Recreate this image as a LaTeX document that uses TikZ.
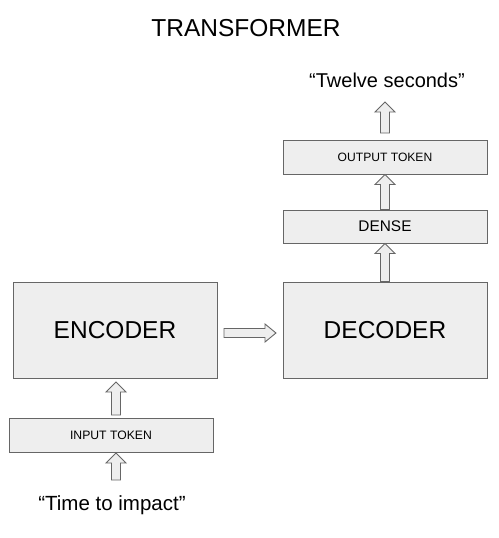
\documentclass[tikz,border=0pt]{standalone}
\usepackage{fontspec}
\setmainfont{Liberation Sans}
\usetikzlibrary{calc}
\definecolor{boxfill}{HTML}{EEEEEE}
\definecolor{boxline}{HTML}{666666}
\tikzset{
  box/.style={draw=boxline, fill=boxfill, line width=1pt, inner sep=0pt},
  blk/.style={draw=boxline, fill=boxfill, line width=0.9pt, line join=miter},
  lbl/.style={inner sep=0pt, text=black}
}
\newcommand\blkup[2]{\draw[blk] let \p1=(#1), \p2=(#2) in
  (\x1-4.5pt,\y1) -- (\x1-4.5pt,\y2-10pt) -- (\x1-10pt,\y2-10pt) -- (\x1,\y2)
  -- (\x1+10pt,\y2-10pt) -- (\x1+4.5pt,\y2-10pt) -- (\x1+4.5pt,\y1) -- cycle;}
\newcommand\blkright[2]{\draw[blk] let \p1=(#1), \p2=(#2) in
  (\x1,\y1-4.5pt) -- (\x2-11pt,\y1-4.5pt) -- (\x2-11pt,\y1-9pt) -- (\x2,\y1)
  -- (\x2-11pt,\y1+9pt) -- (\x2-11pt,\y1+4.5pt) -- (\x1,\y1+4.5pt) -- cycle;}
\begin{document}
\begin{tikzpicture}[x=1pt,y=-1pt]
\useasboundingbox (0,0) rectangle (498,538);
\node[lbl, font=\fontsize{24.5}{28}\selectfont] (title) at (246,28) {TRANSFORMER};

\node[box, minimum width=204pt, minimum height=96pt, font=\fontsize{24.5}{28}\selectfont] (enc) at (115,330) {ENCODER};
\node[box, minimum width=204pt, minimum height=96pt, font=\fontsize{24.5}{28}\selectfont] (dec) at (385,330) {DECODER};
\node[box, minimum width=204pt, minimum height=34pt, font=\fontsize{12.2}{14}\selectfont] (inp) at (111,435) {INPUT TOKEN};
\node[box, minimum width=204pt, minimum height=33pt, font=\fontsize{15.4}{18}\selectfont] (dense) at (385,226.5) {DENSE};
\node[box, minimum width=204pt, minimum height=34pt, font=\fontsize{12.1}{14}\selectfont] (out) at (385,157) {OUTPUT TOKEN};

\node[lbl, font=\fontsize{20}{24}\selectfont] (twelve) at (387,80) {“Twelve seconds”};
\node[lbl, font=\fontsize{20.5}{24}\selectfont] (time) at (112,505) {“Time to impact”};

\coordinate (a1s) at (116,480); \coordinate (a1e) at (116,453);
\blkup{a1s}{a1e}
\coordinate (a2s) at (116,415); \coordinate (a2e) at (116,382);
\blkup{a2s}{a2e}
\coordinate (a3s) at (224,333); \coordinate (a3e) at (276,333);
\blkright{a3s}{a3e}
\blkup{dec.north}{dense.south}
\blkup{dense.north}{out.south}
\coordinate (a6s) at (385,133); \coordinate (a6e) at (385,102);
\blkup{a6s}{a6e}
\end{tikzpicture}
\end{document}
